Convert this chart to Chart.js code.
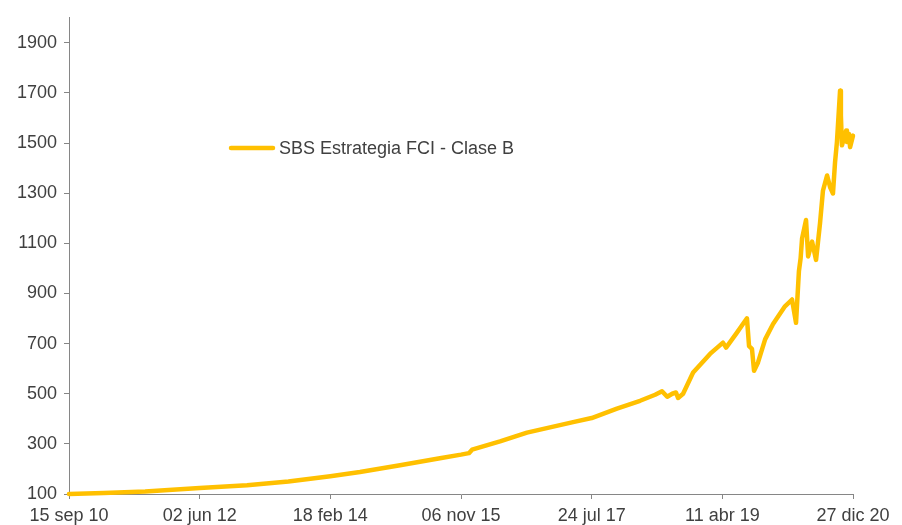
<!DOCTYPE html>
<html>
<head>
<meta charset="utf-8">
<script src="https://cdn.jsdelivr.net/npm/chart.js@4/dist/chart.umd.min.js"></script>
<style>
  html, body { margin: 0; padding: 0; background: #fff; }
  #wrap { width: 902px; height: 525px; }
</style>
</head>
<body>
<div id="wrap"><canvas id="grafico"></canvas></div>
<script>
const serieNombre = 'SBS Estrategia FCI - Clase B';

const fechas = [
  '2010-09-15', '2011-03-01', '2011-09-15', '2012-06-02', '2013-01-15', '2013-08-01',
  '2014-02-18', '2014-07-10', '2015-01-18', '2015-07-28', '2015-11-06', '2015-12-14',
  '2015-12-29', '2016-05-11', '2016-09-17', '2017-04-26', '2017-07-24', '2017-11-22',
  '2018-03-13', '2018-05-24', '2018-06-26', '2018-07-21', '2018-08-14', '2018-09-01',
  '2018-09-11', '2018-10-05', '2018-11-22', '2019-02-11', '2019-04-14', '2019-04-29',
  '2019-06-20', '2019-08-07', '2019-08-17', '2019-08-31', '2019-09-10', '2019-09-29',
  '2019-11-02', '2019-12-10', '2020-02-05', '2020-03-10', '2020-03-29', '2020-04-12',
  '2020-04-20', '2020-04-27', '2020-05-16', '2020-05-26', '2020-06-14', '2020-07-03',
  '2020-07-22', '2020-08-05', '2020-08-25', '2020-09-08', '2020-09-22', '2020-10-02',
  '2020-10-11', '2020-10-26', '2020-10-30', '2020-11-04', '2020-11-24', '2020-11-28',
  '2020-12-08', '2020-12-13', '2020-12-27', '2021-01-10'
];
const valores = [
  100, 104, 110, 124, 135, 150,
  171, 188, 215, 243, 257, 263,
  277, 310, 345, 387, 403, 441,
  472, 496, 510, 488, 500, 505,
  483, 500, 585, 659, 704, 684,
  744, 801, 690, 679, 592, 625,
  717, 778, 849, 876, 783, 990,
  1040, 1120, 1193, 1048, 1107, 1034,
  1180, 1310, 1371, 1325, 1299, 1424,
  1504, 1709, 1610, 1491, 1550, 1504,
  1537, 1484, 1530, 1523
];

const tickFechas = ['2010-09-15', '2012-06-02', '2014-02-18', '2015-11-06', '2017-07-24', '2019-04-11', '2020-12-27'];
const tickEtiquetas = ['15 sep 10', '02 jun 12', '18 feb 14', '06 nov 15', '24 jul 17', '11 abr 19', '27 dic 20'];
const yTicks = [100, 300, 500, 700, 900, 1100, 1300, 1500, 1700, 1900];

const t0 = Date.UTC(2010, 8, 15);
function dias(s) {
  const [a, m, d] = s.split('-').map(Number);
  return Math.round((Date.UTC(a, m - 1, d) - t0) / 86400000);
}

const puntos = fechas.map((f, i) => ({ x: dias(f), y: valores[i] }));
const tickDias = tickFechas.map(dias);

const colorSerie = '#FFC000';
const colorTexto = '#404040';
const colorEje = '#868686';
const fuente = { family: 'Arial, "Liberation Sans", sans-serif', size: 18 };

// leyenda dentro del area del grafico
const leyenda = {
  id: 'leyenda',
  afterDraw(chart) {
    const ctx = chart.ctx;
    ctx.save();
    ctx.strokeStyle = colorSerie;
    ctx.lineWidth = 4.5;
    ctx.lineCap = 'round';
    ctx.beginPath();
    ctx.moveTo(231, 148);
    ctx.lineTo(273, 148);
    ctx.stroke();
    ctx.fillStyle = colorTexto;
    ctx.font = '18px Arial, "Liberation Sans", sans-serif';
    ctx.textBaseline = 'middle';
    ctx.fillText(serieNombre, 279, 149);
    ctx.restore();
  }
};

new Chart(document.getElementById('grafico'), {
  type: 'line',
  data: {
    datasets: [{
      label: serieNombre,
      data: puntos,
      borderColor: colorSerie,
      borderWidth: 4.5,
      borderJoinStyle: 'round',
      borderCapStyle: 'round',
      pointRadius: 0,
      tension: 0,
      fill: false,
      clip: false
    }]
  },
  options: {
    responsive: true,
    maintainAspectRatio: false,
    animation: false,
    layout: { padding: { top: 15, right: 49, left: 0, bottom: 0 } },
    plugins: {
      legend: { display: false },
      tooltip: { enabled: false }
    },
    scales: {
      x: {
        type: 'linear',
        min: 0,
        max: tickDias[tickDias.length - 1],
        afterBuildTicks: scale => { scale.ticks = tickDias.map(v => ({ value: v })); },
        afterFit: scale => { scale.height = 31; },
        ticks: {
          color: colorTexto,
          font: fuente,
          padding: 6,
          maxRotation: 0,
          autoSkip: false,
          callback: v => tickEtiquetas[tickDias.indexOf(v)]
        },
        grid: { drawOnChartArea: false, tickLength: 5, color: colorEje },
        border: { color: colorEje }
      },
      y: {
        min: 100,
        max: 2000,
        afterBuildTicks: scale => { scale.ticks = yTicks.map(v => ({ value: v })); },
        afterFit: scale => { scale.width = 69; },
        ticks: {
          color: colorTexto,
          font: fuente,
          padding: 7,
          callback: v => String(v)
        },
        grid: { drawOnChartArea: false, tickLength: 5, color: colorEje },
        border: { color: colorEje }
      }
    }
  },
  plugins: [leyenda]
});
</script>
</body>
</html>
